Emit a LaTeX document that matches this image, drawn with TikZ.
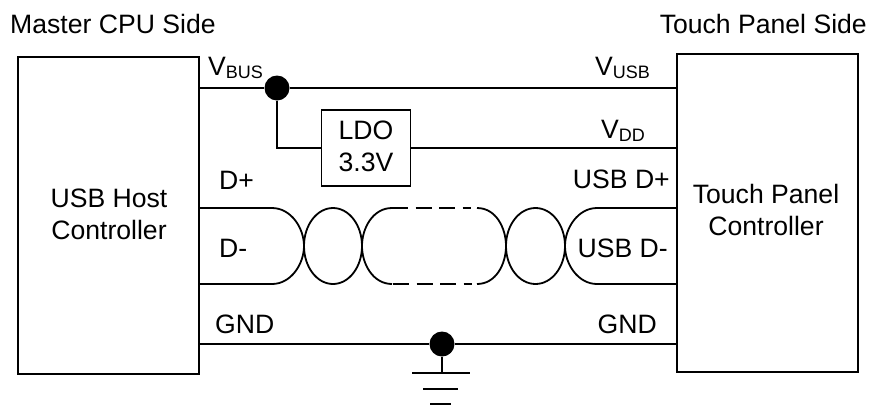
\documentclass[tikz,border=0pt]{standalone}
\usepackage{fontspec}
\setmainfont{Liberation Sans}
\tikzset{
  wire/.style={draw=black,line width=1.8pt},
  lbl/.style={font=\fontsize{26.6}{31}\selectfont,inner sep=0pt,text=black},
  box/.style={draw=black,line width=1.8pt,fill=white,inner sep=0pt,minimum width=#1},
  dotn/.style={circle,fill=black,inner sep=0pt,minimum size=25pt},
  gnd/.style={draw=black,line width=1.8pt}
}
\newcommand{\subt}[2]{#1{\fontsize{18}{20}\selectfont\raisebox{-3pt}{#2}}}
\begin{document}
\begin{tikzpicture}[x=1pt,y=-1pt]
\useasboundingbox (0,0) rectangle (873,405);
\node[box=181pt,minimum height=317pt] (host) at (108.5,215.5) {};
\node[box=181pt,minimum height=318pt] (panel) at (767.5,213) {};
\node[lbl,align=center,anchor=base] at (109,207) {USB Host};
\node[lbl,align=center,anchor=base] at (109,239) {Controller};
\node[lbl,align=center,anchor=base] at (766,203) {Touch Panel};
\node[lbl,align=center,anchor=base] at (766,235) {Controller};
\node[box=89pt,minimum height=76pt] (ldo) at (366,148) {};
\node[lbl,anchor=base] at (366,139) {LDO};
\node[lbl,anchor=base] at (366,171) {3.3V};
\node[dotn] (vbus) at (277,88) {};
\node[dotn] (gnddot) at (442,344) {};
\coordinate (gb) at (442,373);
\coordinate (g1l) at (412,373); \coordinate (g1r) at (470,373);
\coordinate (g2l) at (423,389); \coordinate (g2r) at (458,389);
\coordinate (g3l) at (430,404); \coordinate (g3r) at (451,404);
% supply
\draw[wire] (199,88) -- (vbus) -- (677,88);
\draw[wire] (vbus) |- (ldo.west);
\draw[wire] (ldo.east) -- (677,148);
\draw[wire] (199,344) -- (gnddot) -- (677,344);
\draw[gnd] (gnddot) -- (gb);
\draw[gnd] (g1l) -- (g1r);
\draw[gnd] (g2l) -- (g2r);
\draw[gnd] (g3l) -- (g3r);
% twisted pair
\draw[wire] (199,208) -- (272,208) .. controls (291,208) and (304,228) .. (304,246)
  .. controls (304,264) and (291,284) .. (272,284) -- (199,284);
\draw[wire] (333,246) ellipse [x radius=29,y radius=38];
\draw[wire] (392,208) .. controls (373,208) and (362,228) .. (362,246)
  .. controls (362,264) and (373,284) .. (392,284);
\draw[wire,dash pattern=on 16pt off 7.5pt] (392,208) -- (471,208);
\draw[wire,dash pattern=on 16pt off 7.5pt] (393,284) -- (472,284);
\draw[wire] (477,208) .. controls (496,208) and (506,228) .. (506,246)
  .. controls (506,264) and (496,284) .. (477,284);
\draw[wire] (535.5,246) ellipse [x radius=29.5,y radius=38];
\draw[wire] (677,208) -- (597,208) .. controls (578,208) and (565,228) .. (565,246)
  .. controls (565,264) and (578,284) .. (597,284) -- (677,284);
% labels
\node[lbl,anchor=base west] at (10,33) {Master CPU Side};
\node[lbl,anchor=base east] at (867,33) {Touch Panel Side};
\node[lbl,anchor=base west] at (208,75) {\subt{V}{BUS}};
\node[lbl,anchor=base east] at (650,75) {\subt{V}{USB}};
\node[lbl,anchor=base east] at (645,138) {\subt{V}{DD}};
\node[lbl,anchor=base west] at (219,189) {D+};
\node[lbl,anchor=base west] at (219,257) {D-};
\node[lbl,anchor=base east] at (670,188) {USB D+};
\node[lbl,anchor=base east] at (668,257) {USB D-};
\node[lbl,anchor=base west] at (215,333) {GND};
\node[lbl,anchor=base east] at (657,333) {GND};
\end{tikzpicture}
\end{document}
